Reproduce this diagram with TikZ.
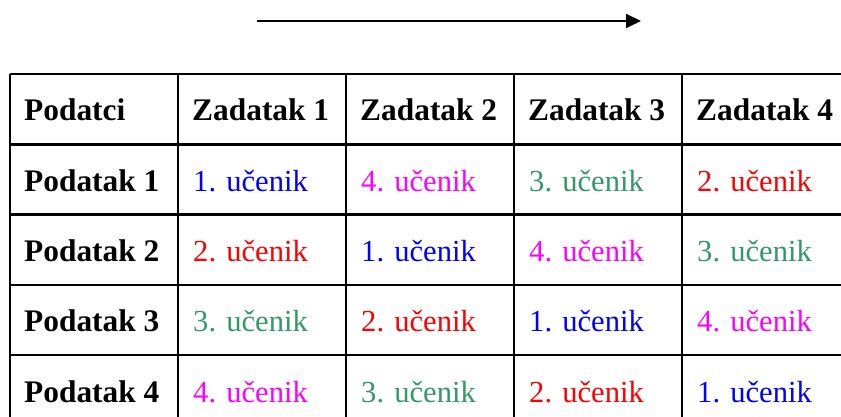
\documentclass[tikz,border=0pt]{standalone}
\usepackage{fontspec}
\setmainfont{Liberation Serif}
\usepackage{xcolor}
\usetikzlibrary{calc, arrows.meta}
\definecolor{studentgreen}{RGB}{51,153,102}
\definecolor{studentmagenta}{RGB}{255,0,255}
\definecolor{studentblue}{RGB}{0,0,255}
\definecolor{studentred}{RGB}{255,0,0}

\begin{document}
\begin{tikzpicture}[x=1pt, y=-1pt,
		head/.style = {anchor = base west, inner sep = 0pt, font = \fontsize{31.4}{36}\selectfont\bfseries},
		entry/.style = {anchor = base west, inner sep = 0pt, font = \fontsize{30.6}{36}\selectfont}]
			\def\tabx{10};
			\def\taby{74};
			\def\colw{168};
			\def\rowh{70.3};
			\def\pad{14};
			\def\base{47};

			\useasboundingbox (0,0) rectangle (841,417);
			\clip (0,0) rectangle (841,417);

			\coordinate (table corner) at (\tabx,\taby);
			\coordinate (arrow tail) at (257,21);
			\coordinate (arrow head) at (641,21);

			\draw [line width = 2pt, -{Triangle[length = 15pt, width = 14pt]}] (arrow tail) -- (arrow head);

			\begin{scope}[line width = 2.5pt]
				\foreach \i in {0,...,5}
					\draw ($ (table corner) + (0,\i*\rowh) $) -- ($ (table corner) + (5*\colw,\i*\rowh) $);
				\foreach \i in {0,...,5}
					\draw ($ (table corner) + (\i*\colw,0) $) -- ($ (table corner) + (\i*\colw,5*\rowh) $);
			\end{scope}

			\node [head] (corner label) at ($ (table corner) + (\pad,\base) $) {Podatci};
			\foreach \c in {1,...,4}
				\node [head] (task \c) at ($ (table corner) + (\c*\colw+\pad,\base) $) {Zadatak \c};
			\foreach \r in {1,...,4}
				\node [head] (datum \r) at ($ (table corner) + (\pad,\r*\rowh+\base) $) {Podatak \r};

			\foreach \r/\c/\n/\col in {1/1/1/studentblue, 1/2/4/studentmagenta, 1/3/3/studentgreen, 1/4/2/studentred,
					2/1/2/studentred, 2/2/1/studentblue, 2/3/4/studentmagenta, 2/4/3/studentgreen,
					3/1/3/studentgreen, 3/2/2/studentred, 3/3/1/studentblue, 3/4/4/studentmagenta,
					4/1/4/studentmagenta, 4/2/3/studentgreen, 4/3/2/studentred, 4/4/1/studentblue}
				\node [entry, text = \col] (entry \r-\c) at ($ (table corner) + (\c*\colw+\pad+1,\r*\rowh+\base) $) {\n. učenik};
		\end{tikzpicture}
\end{document}
